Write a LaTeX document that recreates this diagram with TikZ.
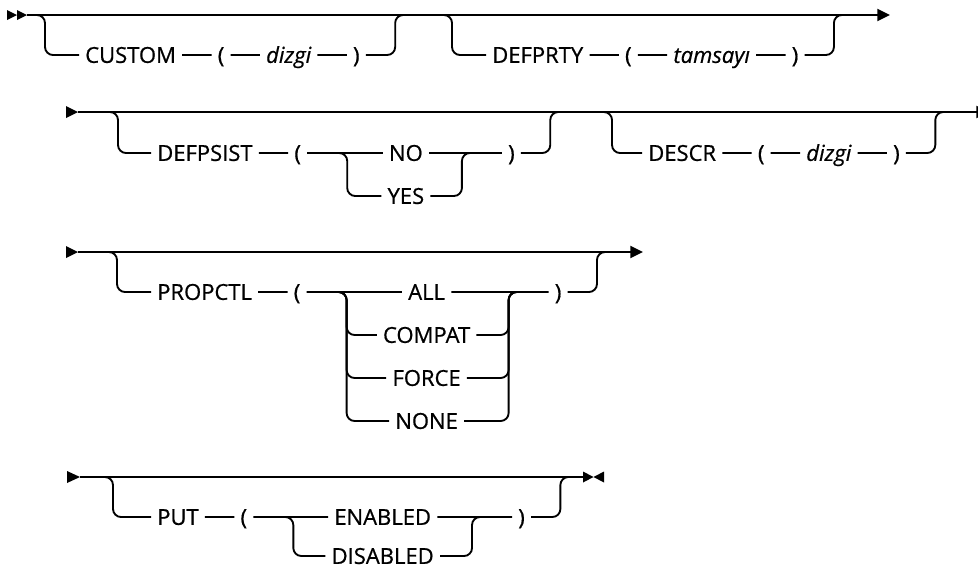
\documentclass[tikz,border=0pt]{standalone}
\usepackage{fontspec}
\setmainfont{Open Sans}[FakeBold=0.7]
\usetikzlibrary{arrows.meta,positioning}
\newcommand\railfont{\fontsize{16.5}{20}\selectfont}
\tikzset{
  rail/.style={line width=1.4pt, rounded corners=6pt},
  kw/.style={font=\railfont, inner xsep=4.5pt, inner ysep=0pt, text height=11.8pt, text depth=0pt},
  opnd/.style={kw, font=\railfont\itshape},
  endarr/.style={-{Triangle[length=9.5pt,width=9pt]}},
}

\begin{document}
\begin{tikzpicture}[x=0.75pt, y=-0.75pt, node distance=22pt]
  \useasboundingbox (0,0) rectangle (978,569);

  % row 1
  \coordinate (s1) at (27,15);  \coordinate (e1) at (890,15);
  \coordinate (j1) at (45,15);  \coordinate (j3) at (452,15);
  \node[kw, anchor=west] (custom) at (79,55) {CUSTOM};
  \node[kw, right=of custom] (lp1) {(};
  \node[opnd, right=of lp1] (dizgi1) {dizgi};
  \node[kw, right=of dizgi1] (rp1) {)};
  \node[kw, anchor=west] (defprty) at (486,55) {DEFPRTY};
  \node[kw, right=of defprty] (lp2) {(};
  \node[opnd, right=of lp2] (tamsayi) {tamsayı};
  \node[kw, right=of tamsayi] (rp2) {)};
  \fill (7,10) -- (17,15) -- (7,20) -- cycle;
  \fill (17,10) -- (27,15) -- (17,20) -- cycle;
  \draw[rail, endarr] (s1) -- (e1);
  \draw[rail] ([xshift=-9pt]j1) -- (j1) |- (custom) -- (lp1) -- (dizgi1) -- (rp1)
    -| ([xshift=22pt]rp1.east |- s1) -- ++(9pt,0);
  \draw[rail] ([xshift=-9pt]j3) -- (j3) |- (defprty) -- (lp2) -- (tamsayi) -- (rp2)
    -| ([xshift=22pt]rp2.east |- s1) -- ++(9pt,0);

  % row 2
  \coordinate (s2) at (78,112);  \coordinate (e2) at (989,112);
  \coordinate (j5) at (118,112); \coordinate (j7) at (612,112);
  \node[kw, anchor=west] (defpsist) at (151,153) {DEFPSIST};
  \node[kw, right=of defpsist] (lp3) {(};
  \coordinate[right=30pt of lp3] (k1);
  \node[kw] (no)  at ([xshift=44pt]k1) {NO};
  \node[kw] (yes) at ([yshift=-32.25pt]no) {YES};
  \coordinate (m1) at ([xshift=86pt]k1);
  \node[kw, anchor=west] (rp3) at ([xshift=30pt]m1) {)};
  \node[kw, anchor=west] (descr) at (642,153) {DESCR};
  \node[kw, right=of descr] (lp4) {(};
  \node[opnd, right=of lp4] (dizgi2) {dizgi};
  \node[kw, right=of dizgi2] (rp4) {)};
  \fill (66,106) -- (78,112) -- (66,118) -- cycle;
  \draw[rail, endarr] (s2) -- (e2);
  \draw[rail] ([xshift=-9pt]j5) -- (j5) |- (defpsist) -- (lp3) -- (no) -- (rp3)
    -| ([xshift=22pt]rp3.east |- s2) -- ++(9pt,0);
  \draw[rail] ([xshift=-9pt]k1) -- (k1) |- (yes) -| (m1) -- ([xshift=9pt]m1);
  \draw[rail] ([xshift=-9pt]j7) -- (j7) |- (descr) -- (lp4) -- (dizgi2) -- (rp4)
    -| ([xshift=22pt]rp4.east |- s2) -- ++(9pt,0);

  % row 3
  \coordinate (s3) at (78,252);  \coordinate (e3) at (643,252);
  \coordinate (j9) at (117,252);
  \node[kw, anchor=west] (propctl) at (151,292) {PROPCTL};
  \node[kw, right=of propctl] (lp5) {(};
  \coordinate[right=30pt of lp5] (k2);
  \node[kw] (all)    at ([xshift=60pt]k2) {ALL};
  \node[kw] (compat) at ([yshift=-32.25pt]all) {COMPAT};
  \node[kw] (force)  at ([yshift=-32.25pt]compat) {FORCE};
  \node[kw] (none)   at ([yshift=-32.25pt]force) {NONE};
  \coordinate (m2) at ([xshift=121.5pt]k2);
  \node[kw, anchor=west] (rp5) at ([xshift=30pt]m2) {)};
  \fill (66,246) -- (78,252) -- (66,258) -- cycle;
  \draw[rail, endarr] (s3) -- (e3);
  \draw[rail] ([xshift=-9pt]j9) -- (j9) |- (propctl) -- (lp5) -- (all) -- (rp5)
    -| ([xshift=22pt]rp5.east |- s3) -- ++(9pt,0);
  \foreach \opt in {compat, force, none}
    \draw[rail] ([xshift=-9pt]k2) -- (k2) |- (\opt) -| (m2) -- ([xshift=9pt]m2);

  % row 4
  \coordinate (s4) at (80,477);   \coordinate (e4) at (583,477);
  \coordinate (j11) at (113,477);
  \node[kw, anchor=west] (put) at (151,517) {PUT};
  \node[kw, right=of put] (lp6) {(};
  \coordinate[right=30pt of lp6] (k3);
  \node[kw] (enabled)  at ([xshift=67pt]k3) {ENABLED};
  \node[kw] (disabled) at ([yshift=-29.25pt]enabled) {DISABLED};
  \coordinate (m3) at ([xshift=134pt]k3);
  \node[kw, anchor=west] (rp6) at ([xshift=30pt]m3) {)};
  \fill (67,471) -- (80,477) -- (67,483) -- cycle;
  \draw[rail] (s4) -- (e4);
  \fill (583,471.5) -- (593.5,477) -- (583,482.5) -- cycle;
  \fill (604,471.5) -- (593.5,477) -- (604,482.5) -- cycle;
  \draw[rail] ([xshift=-9pt]j11) -- (j11) |- (put) -- (lp6) -- (enabled) -- (rp6)
    -| ([xshift=22pt]rp6.east |- s4) -- ++(9pt,0);
  \draw[rail] ([xshift=-9pt]k3) -- (k3) |- (disabled) -| (m3) -- ([xshift=9pt]m3);
\end{tikzpicture}
\end{document}
